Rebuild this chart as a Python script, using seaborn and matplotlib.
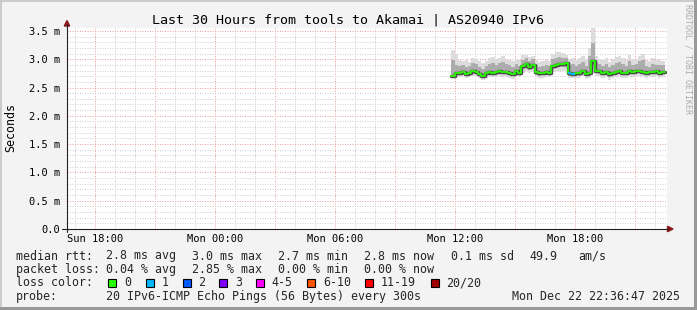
import numpy as np
import pandas as pd
import matplotlib
matplotlib.use("Agg")
import matplotlib.pyplot as plt
from matplotlib.patches import Rectangle, Polygon
from matplotlib.lines import Line2D
from matplotlib.ticker import MultipleLocator, FixedLocator, FuncFormatter
import seaborn as sns

# ---------------- data ----------------
window_start_h = 16 + 36 / 60 + 47 / 3600      # Sun 16:36:47, hours since Sun 00:00
window_hours = 30
sample_start_h = 35 + 50 / 60                   # Mon 11:50
sample_step_h = 10 / 60

median_rtt = [2.71, 2.76, 2.76, 2.77, 2.74, 2.76, 2.79, 2.78, 2.74, 2.71,
              2.76, 2.78, 2.76, 2.78, 2.79, 2.78, 2.77, 2.76, 2.74, 2.79,
              2.76, 2.88, 2.92, 2.86, 2.90, 2.77, 2.76, 2.76, 2.78, 2.76,
              2.88, 2.90, 2.92, 2.91, 2.93, 2.76, 2.74, 2.76, 2.75, 2.80,
              2.74, 2.76, 2.97, 2.80, 2.79, 2.76, 2.78, 2.74, 2.76, 2.78,
              2.79, 2.76, 2.76, 2.79, 2.78, 2.80, 2.80, 2.78, 2.76, 2.78,
              2.78, 2.79, 2.76, 2.78]

smoke_min = [2.66, 2.68, 2.69, 2.68, 2.66, 2.68, 2.70, 2.69, 2.66, 2.64,
             2.67, 2.69, 2.68, 2.69, 2.70, 2.69, 2.68, 2.67, 2.65, 2.70,
             2.68, 2.76, 2.79, 2.75, 2.77, 2.68, 2.67, 2.67, 2.69, 2.68,
             2.77, 2.79, 2.80, 2.80, 2.81, 2.67, 2.66, 2.67, 2.66, 2.70,
             2.65, 2.67, 2.82, 2.70, 2.70, 2.67, 2.68, 2.64, 2.67, 2.69,
             2.70, 2.67, 2.67, 2.70, 2.69, 2.70, 2.71, 2.68, 2.67, 2.69,
             2.69, 2.70, 2.67, 2.69]

smoke_lo = [2.68, 2.72, 2.73, 2.73, 2.70, 2.72, 2.75, 2.74, 2.70, 2.67,
            2.72, 2.74, 2.72, 2.74, 2.75, 2.74, 2.73, 2.72, 2.70, 2.75,
            2.72, 2.82, 2.86, 2.81, 2.84, 2.72, 2.71, 2.72, 2.74, 2.72,
            2.82, 2.84, 2.86, 2.86, 2.87, 2.71, 2.70, 2.72, 2.71, 2.75,
            2.70, 2.72, 2.90, 2.75, 2.74, 2.72, 2.74, 2.69, 2.72, 2.74,
            2.75, 2.72, 2.72, 2.75, 2.74, 2.76, 2.76, 2.74, 2.72, 2.74,
            2.74, 2.75, 2.72, 2.74]

smoke_hi = [2.98, 2.90, 2.88, 2.89, 2.86, 2.88, 2.93, 2.92, 2.86, 2.83,
            2.88, 2.92, 2.93, 2.90, 2.93, 2.95, 2.91, 2.89, 2.86, 2.92,
            2.88, 2.99, 3.02, 2.97, 3.00, 2.89, 2.87, 2.88, 2.90, 2.88,
            3.00, 3.03, 3.04, 3.02, 3.03, 2.90, 2.92, 2.88, 2.91, 2.95,
            2.88, 3.05, 3.28, 2.95, 2.91, 2.88, 2.91, 2.86, 2.89, 2.93,
            2.95, 2.91, 2.88, 2.96, 2.90, 2.92, 2.96, 2.98, 2.88, 2.87,
            2.92, 2.90, 2.90, 2.89]

smoke_max = [3.17, 3.10, 2.98, 2.97, 3.00, 2.95, 3.02, 3.01, 2.96, 2.93,
             2.97, 3.03, 3.04, 3.00, 3.03, 3.05, 3.01, 2.99, 2.96, 3.00,
             2.98, 3.07, 3.08, 3.04, 3.06, 2.98, 2.95, 2.97, 2.99, 2.97,
             3.10, 3.13, 3.12, 3.11, 3.08, 3.00, 3.03, 2.98, 3.02, 3.05,
             3.00, 3.20, 3.55, 3.05, 3.01, 2.98, 3.02, 2.95, 3.00, 3.04,
             3.06, 3.03, 2.98, 3.08, 3.00, 3.01, 3.06, 3.10, 2.98, 2.96,
             3.02, 2.99, 3.00, 2.97]

lost_pings = [0] * 35 + [1, 1] + [0] * 27

xtick_hours = [18, 24, 30, 36, 42]
xtick_labels = ["Sun 18:00", "Mon 00:00", "Mon 06:00", "Mon 12:00", "Mon 18:00"]
ytick_values = [0.0, 0.5, 1.0, 1.5, 2.0, 2.5, 3.0, 3.5]
ytick_labels = ["0.0", "0.5 m", "1.0 m", "1.5 m", "2.0 m", "2.5 m", "3.0 m", "3.5 m"]

loss_legend_labels = ["0", "1", "2", "3", "4-5", "6-10", "11-19", "20/20"]
loss_legend_colors = ["#26ff00", "#00b8ff", "#0059ff", "#7e00ff",
                      "#ff00ff", "#ff5500", "#ff0000", "#a10000"]

rtt_row = [("2.8 ms avg", 107), ("3.0 ms max", 193), ("2.7 ms min", 279),
           ("2.8 ms now", 365), ("0.1 ms sd", 451.5), ("49.9", 530), ("am/s", 579)]
loss_row = [("0.04 % avg", 107), ("2.85 % max", 193), ("0.00 % min", 279),
            ("0.00 % now", 365)]

# ---------------- figure ----------------
W, H = 697, 310
sns.set_theme(style="white")
plt.rcParams["font.family"] = ["DejaVu Sans Mono", "DejaVu Sans"]

BG = "#f3f3f3"
fig = plt.figure(figsize=(W / 100, H / 100), dpi=100, facecolor=BG)


def fx(x):
    return x / W


def fy(y):
    return 1 - y / H


ax_l, ax_r, ax_t, ax_b = 67, 667, 28, 229
ax = fig.add_axes([fx(ax_l), fy(ax_b), (ax_r - ax_l) / W, (ax_b - ax_t) / H])
ax.set_facecolor("white")

n = len(median_rtt)
hours = sample_start_h + sample_step_h * np.arange(n + 1)


def ext(a):
    return list(a) + [a[-1]]


df = pd.DataFrame({
    "hour": hours,
    "median": ext(median_rtt),
    "smin": ext(smoke_min),
    "slo": ext(smoke_lo),
    "shi": ext(smoke_hi),
    "smax": ext(smoke_max),
})

ax.fill_between(df["hour"], df["smin"], df["smax"], step="post",
                color="#dcdcdc", lw=0, zorder=2)
ax.fill_between(df["hour"], df["slo"], df["shi"], step="post",
                color="#acacac", lw=0, zorder=3)

sns.lineplot(data=df, x="hour", y="median", drawstyle="steps-post",
             color="#4a4a4a", lw=2.5, ax=ax, legend=False, zorder=4)
sns.lineplot(data=df, x="hour", y="median", drawstyle="steps-post",
             color=loss_legend_colors[0], lw=1.25, ax=ax, legend=False, zorder=5)
for k, lost in enumerate(lost_pings):
    if lost > 0:
        ax.hlines(median_rtt[k], hours[k], hours[k + 1],
                  color=loss_legend_colors[min(lost, 7)], lw=1.6, zorder=6)

ax.set_xlim(window_start_h, window_start_h + window_hours)
ax.set_ylim(0, (ax_b - ax_t) / 56.6)

# ticks / grid
label_map = dict(zip(xtick_hours, xtick_labels))
ax.xaxis.set_major_locator(MultipleLocator(3))
ax.xaxis.set_minor_locator(MultipleLocator(1))
ax.xaxis.set_major_formatter(FuncFormatter(
    lambda v, p: label_map.get(int(round(v)), "") if abs(v - round(v)) < 1e-6 else ""))
ax.yaxis.set_major_locator(FixedLocator(ytick_values))
ax.yaxis.set_major_formatter(FuncFormatter(
    lambda v, p: ytick_labels[ytick_values.index(round(v, 1))] if round(v, 1) in ytick_values else ""))
ax.yaxis.set_minor_locator(MultipleLocator(0.1))

ax.set_axisbelow(True)
ax.grid(which="minor", color="#cfcfcf", lw=0.72, ls=(0, (1, 1.5)), zorder=0)
ax.grid(which="major", color="#f0a0a0", lw=0.72, ls=(0, (1, 1.5)), zorder=1)

ax.tick_params(axis="both", which="major", labelsize=7.5, colors="#000000",
               length=2.2, width=0.72, direction="out")
ax.tick_params(axis="x", which="major", pad=1.6)
ax.tick_params(axis="y", which="major", pad=2.5)
ax.tick_params(axis="both", which="minor", length=0)
ax.set_xlabel("")
ax.set_ylabel("")
for s in ["top", "right", "left", "bottom"]:
    ax.spines[s].set_visible(False)

# axis lines with arrows
axis_col = "#222222"
arrow_col = "#8b1a1a"
fig.add_artist(Line2D([fx(67), fx(67)], [fy(232), fy(24)], color=axis_col, lw=0.8,
                      transform=fig.transFigure))
fig.add_artist(Line2D([fx(62), fx(668)], [fy(229), fy(229)], color=axis_col, lw=0.8,
                      transform=fig.transFigure))
fig.add_artist(Polygon([(fx(64.3), fy(26)), (fx(69.7), fy(26)), (fx(67), fy(20.5))],
                       closed=True, color=arrow_col, transform=fig.transFigure))
fig.add_artist(Polygon([(fx(667.5), fy(226.3)), (fx(667.5), fy(231.7)), (fx(673), fy(229))],
                       closed=True, color=arrow_col, transform=fig.transFigure))

# texts
fig.text(fx(348), fy(24), "Last 30 Hours from tools to Akamai | AS20940 IPv6",
         ha="center", va="baseline", fontsize=9.6, color="#000000")
fig.text(fx(10.5), fy(128), "Seconds", rotation=90, ha="center", va="center",
         fontsize=8.4, color="#000000")
fig.text(fx(688), fy(4), "RRDTOOL / TOBI OETIKER", rotation=270, ha="center",
         va="top", fontsize=6.0, color="#ababab")

LFS = 8.4
fig.text(fx(15.5), fy(259.5), "median rtt:", fontsize=LFS, va="baseline")
for t, x in rtt_row:
    fig.text(fx(x - 0.5), fy(259.5), t, fontsize=LFS, va="baseline")
fig.text(fx(15.5), fy(273), "packet loss:", fontsize=LFS, va="baseline")
for t, x in loss_row:
    fig.text(fx(x - 0.5), fy(273), t, fontsize=LFS, va="baseline")
fig.text(fx(15.5), fy(286.5), "loss color:", fontsize=LFS, va="baseline")
box_x = [108.3, 145.7, 182.7, 219.3, 256, 307.3, 365, 430.7]
for lab, col, bx in zip(loss_legend_labels, loss_legend_colors, box_x):
    fig.add_artist(Rectangle((fx(bx), fy(286.5)), 8 / W, 8 / H, facecolor=col,
                             edgecolor="#000000", lw=0.8, transform=fig.transFigure))
    fig.text(fx(bx + 15.5), fy(286.5), lab, fontsize=LFS, va="baseline")
fig.text(fx(15.5), fy(300), "probe:", fontsize=LFS, va="baseline")
fig.text(fx(106.5), fy(300), "20 IPv6-ICMP Echo Pings (56 Bytes) every 300s",
         fontsize=LFS, va="baseline")
fig.text(fx(680.5), fy(300), "Mon Dec 22 22:36:47 2025", fontsize=LFS,
         va="baseline", ha="right")

# frame shading
fig.add_artist(Rectangle((0, fy(2)), 1, 2 / H, facecolor="#cbcbcb", lw=0,
                         transform=fig.transFigure))
fig.add_artist(Rectangle((0, 0), 2 / W, 1, facecolor="#cbcbcb", lw=0,
                         transform=fig.transFigure))
fig.add_artist(Rectangle((fx(694), 0), 3 / W, 1, facecolor="#999999", lw=0,
                         transform=fig.transFigure))
fig.add_artist(Rectangle((0, 0), 1, 3 / H, facecolor="#999999", lw=0,
                         transform=fig.transFigure))

fig.savefig("out.png", dpi=100, facecolor=BG)
